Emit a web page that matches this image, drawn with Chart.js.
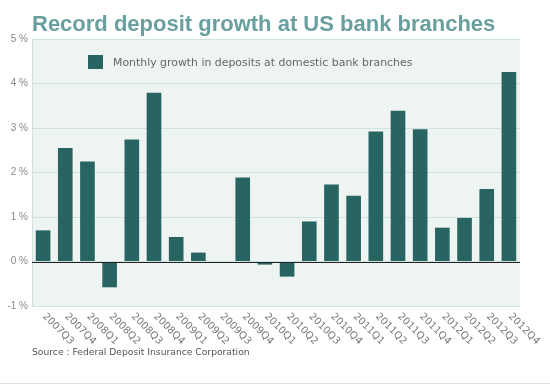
<!DOCTYPE html>
<html>
<head>
<meta charset="utf-8">
<script src="https://cdn.jsdelivr.net/npm/chart.js@4"></script>
<style>
  html, body { margin: 0; padding: 0; background: #fff; }
  #wrap { width: 550px; height: 385px; position: relative; }
</style>
</head>
<body>
<div id="wrap"><canvas id="depositChart" width="550" height="385"></canvas></div>
<script>
// data
const quarters = ["2007Q3", "2007Q4", "2008Q1", "2008Q2", "2008Q3", "2008Q4",
  "2009Q1", "2009Q2", "2009Q3", "2009Q4", "2010Q1", "2010Q2", "2010Q3", "2010Q4",
  "2011Q1", "2011Q2", "2011Q3", "2011Q4", "2012Q1", "2012Q2", "2012Q3", "2012Q4"];
const growth = [0.70, 2.55, 2.25, -0.58, 2.74, 3.79, 0.55, 0.20, -0.03, 1.89, -0.07,
  -0.34, 0.90, 1.73, 1.48, 2.92, 3.39, 2.97, 0.76, 0.98, 1.63, 4.26];
const yTicks = [-1, 0, 1, 2, 3, 4, 5];

const titleText = "Record deposit growth at US bank branches";
const seriesLabel = "Monthly growth in deposits at domestic bank branches";
const sourceText = "Source : Federal Deposit Insurance Corporation";

const barColor = "#286462";

// background, title, legend, rotated labels, source
const decorPlugin = {
  id: "decor",
  beforeDraw(chart) {
    const { ctx, chartArea } = chart;
    ctx.save();
    ctx.fillStyle = "#eef4f1";
    ctx.fillRect(chartArea.left, chartArea.top, chartArea.right - chartArea.left, chartArea.bottom - chartArea.top);
    ctx.restore();
  },
  afterDraw(chart) {
    const { ctx, chartArea, scales } = chart;
    ctx.save();

    // title
    ctx.fillStyle = "#6a9fa0";
    ctx.font = "bold 22px 'Liberation Sans', Arial, sans-serif";
    ctx.textBaseline = "alphabetic";
    ctx.textAlign = "left";
    ctx.fillText(titleText, 32, 31);

    // zero line
    const y0 = scales.y.getPixelForValue(0);
    ctx.strokeStyle = "#222";
    ctx.lineWidth = 1;
    ctx.beginPath();
    ctx.moveTo(chartArea.left, Math.round(y0) + 0.5);
    ctx.lineTo(chartArea.right, Math.round(y0) + 0.5);
    ctx.stroke();

    // legend inside the plot
    ctx.fillStyle = barColor;
    ctx.fillRect(88, 55, 15, 14);
    ctx.fillStyle = "#666";
    ctx.font = "10.9px 'DejaVu Sans', Verdana, sans-serif";
    ctx.textBaseline = "middle";
    ctx.fillText(chart.data.datasets[0].label, 113, 63);

    // x labels, rotated down-right from each tick
    ctx.fillStyle = "#777";
    ctx.font = "10px 'DejaVu Sans', Verdana, sans-serif";
    ctx.textBaseline = "middle";
    chart.data.labels.forEach((lab, i) => {
      const x = scales.x.getPixelForValue(i);
      ctx.save();
      ctx.translate(x + 1, chartArea.bottom + 9);
      ctx.rotate(Math.PI / 4);
      ctx.fillText(lab, 0, 0);
      ctx.restore();
    });

    // source
    ctx.fillStyle = "#555";
    ctx.font = "9.2px 'DejaVu Sans', Verdana, sans-serif";
    ctx.fillText(sourceText, 32, 353);

    // bottom rule
    ctx.strokeStyle = "#e2e2e2";
    ctx.beginPath();
    ctx.moveTo(0, 383.5);
    ctx.lineTo(550, 383.5);
    ctx.stroke();
    ctx.restore();
  }
};

const ctx = document.getElementById("depositChart").getContext("2d");
new Chart(ctx, {
  type: "bar",
  data: {
    labels: quarters,
    datasets: [
      {
        label: seriesLabel,
        data: growth,
        backgroundColor: barColor,
        barPercentage: 0.66,
        categoryPercentage: 1.0,
      },
    ],
  },
  options: {
    responsive: false,
    animation: false,
    layout: { padding: { top: 39, right: 30, bottom: 0, left: 0 } },
    plugins: {
      legend: { display: false },
      title: { display: false },
      tooltip: { enabled: false },
    },
    scales: {
      x: {
        grid: { display: false, drawTicks: false },
        border: { display: false },
        ticks: { display: false },
        afterFit(scale) { scale.height = 79; },
      },
      y: {
        min: -1,
        max: 5,
        afterBuildTicks(scale) { scale.ticks = yTicks.map((v) => ({ value: v })); },
        grid: { color: "#cfe2df", drawTicks: false },
        border: { color: "#cfe2df" },
        ticks: {
          color: "#888",
          font: { family: "'Liberation Sans', Arial, sans-serif", size: 10 },
          padding: 4,
          callback: (v) => v + " %",
        },
        afterFit(scale) { scale.width = 32; },
      },
    },
  },
  plugins: [decorPlugin],
});
</script>
</body>
</html>
